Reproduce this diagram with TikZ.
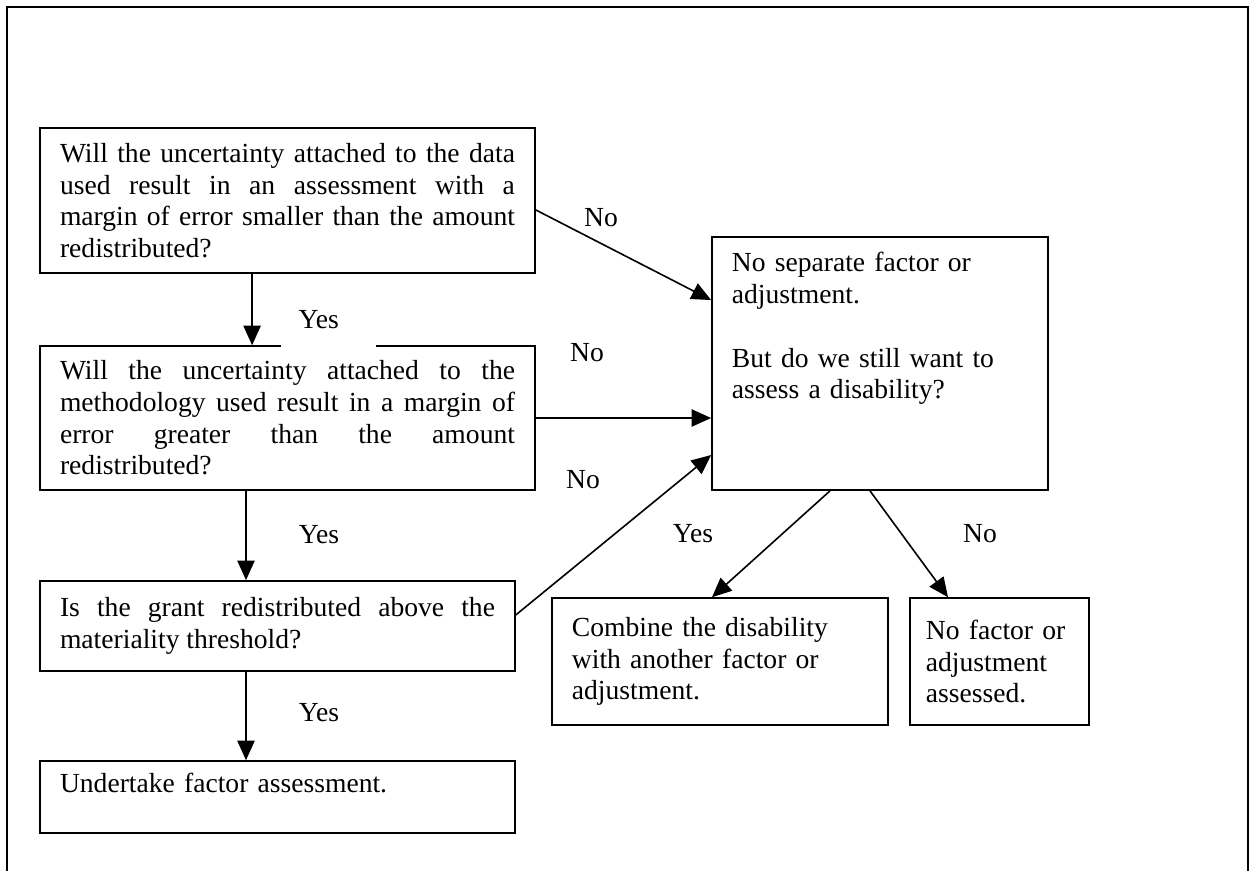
\documentclass[tikz,border=0pt]{standalone}
\usepackage{fontspec}
\setmainfont{Liberation Serif}
\usetikzlibrary{arrows.meta}

\begin{document}
\begin{tikzpicture}[>={Triangle[length=8.5pt, width=7.5pt]}, line width=0.7pt, x=0.435pt, y=-0.435pt,
  font=\fontsize{12}{13.8}\selectfont,
  qbox/.style={draw, inner xsep=8.7pt, inner ysep=6pt, align=justify},
  abox/.style={draw, inner xsep=8.7pt, inner ysep=6pt, align=left}]
\useasboundingbox (0,0) rectangle (1250,871);
\draw (7,871) -- (7,7) -- (1248,7) -- (1248,871);
\node[qbox, text width=197.9pt, minimum width=215.3pt, minimum height=63.1pt] (data) at (287.5,200.5)
  {Will the uncertainty attached to the data\linebreak used result in an assessment with a\linebreak margin of error smaller than the amount\linebreak redistributed?};
\node[qbox, text width=197.9pt, minimum width=215.3pt, minimum height=62.6pt] (method) at (287.5,418)
  {Will the uncertainty attached to the\linebreak methodology used result in a margin of\linebreak error greater than the amount\linebreak redistributed?};
\node[qbox, text width=189.2pt, minimum width=206.6pt, minimum height=39.2pt] (grant) at (277.5,626)
  {Is the grant redistributed above the\linebreak materiality threshold?};
\node[abox, inner ysep=5pt, text width=189.2pt, text height=8.9pt, text depth=12.4pt] (undertake) at (277.5,797)
  {Undertake factor assessment.};
\node[abox, text width=128.8pt, text height=9.2pt, text depth=88.9pt] (nosep) at (880,363.5)
  {No separate factor or\\ adjustment.\\[13.8pt] But do we still want to\\ assess a disability?};
\node[abox, text width=128.8pt, minimum width=146.2pt, minimum height=55.2pt] (combine) at (720,661.5)
  {Combine the disability\\ with another factor or\\ adjustment.};
\node[abox, inner xsep=6.9pt, text width=64pt, minimum width=77.9pt, minimum height=55.2pt] (nofactor) at (999.5,661.5)
  {No factor or\\ adjustment\\ assessed.};
% connectors
\draw[->] ([xshift=-15.4pt]data.south) -- ([xshift=-15.4pt]method.north);
\draw[->] ([xshift=-18.05pt]method.south) -- ([xshift=-13.7pt]grant.north);
\draw[->] ([xshift=-13.7pt]grant.south) -- ([xshift=-13.7pt]undertake.north);
\draw[->] ([yshift=-4.1pt]data.east) -- ([yshift=27.6pt]nosep.west);
\draw[->] (method.east) -- (method.east -| nosep.west);
\draw[->] ([yshift=4.8pt]grant.east) -- ([yshift=-39.8pt]nosep.west);
\draw[->] ([xshift=-21.75pt]nosep.south) -- ([xshift=-3.5pt]combine.north);
\draw[->] ([xshift=-4.35pt]nosep.south) -- ([xshift=-22.4pt]nofactor.north);
% labels
\node[fill=white, anchor=west, inner xsep=7.8pt, text width=26pt, align=left, minimum height=24.5pt] (yesA) at (280,320) {Yes};
\node (yesB) at (319,535) {Yes};
\node (yesC) at (319,713) {Yes};
\node (noA) at (601,218) {No};
\node (noB) at (587,353) {No};
\node (noC) at (583,480) {No};
\node (yesD) at (693,534) {Yes};
\node (noD) at (980,534) {No};
\end{tikzpicture}
\end{document}
